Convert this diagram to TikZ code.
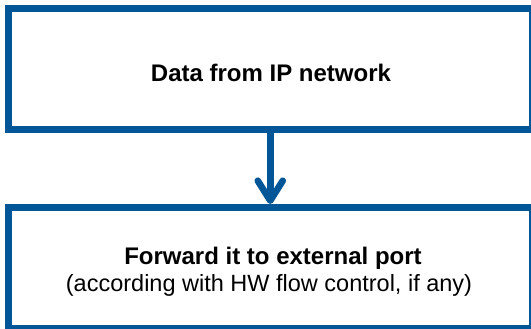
\documentclass[tikz,border=0pt]{standalone}
\usepackage{fontspec}
\setmainfont{Liberation Sans}
\usetikzlibrary{arrows.meta}
\definecolor{boxblue}{RGB}{0,86,150}
\begin{document}
\begin{tikzpicture}[x=1pt,y=1pt,
  box/.style={draw=boxblue, line width=7pt, minimum width=523.5pt, minimum height=121pt, inner sep=0pt, outer sep=3.5pt, fill=white},
  flow/.style={draw=boxblue, line width=6.6pt, -{Straight Barb[length=20pt,width=25pt,round]}},
  title/.style={font=\bfseries\fontsize{24}{28}\selectfont, anchor=base, inner sep=0pt},
  note/.style={font=\fontsize{23.5}{28}\selectfont, anchor=base, inner sep=0pt}]
\useasboundingbox (0,0) rectangle (531,-329);
\node[box] (top) at (270.25,-69.1) {};
\node[box] (bot) at (270.25,-268) {};
\node[title] (t1) at (271,-81.7) {Data from IP network};
\node[title] (t2) at (273,-264) {Forward it to external port};
\node[note] (t3) at (269,-291) {(according with HW flow control, if any)};
\draw[flow] (top.south) -- (bot.north);
\end{tikzpicture}
\end{document}
